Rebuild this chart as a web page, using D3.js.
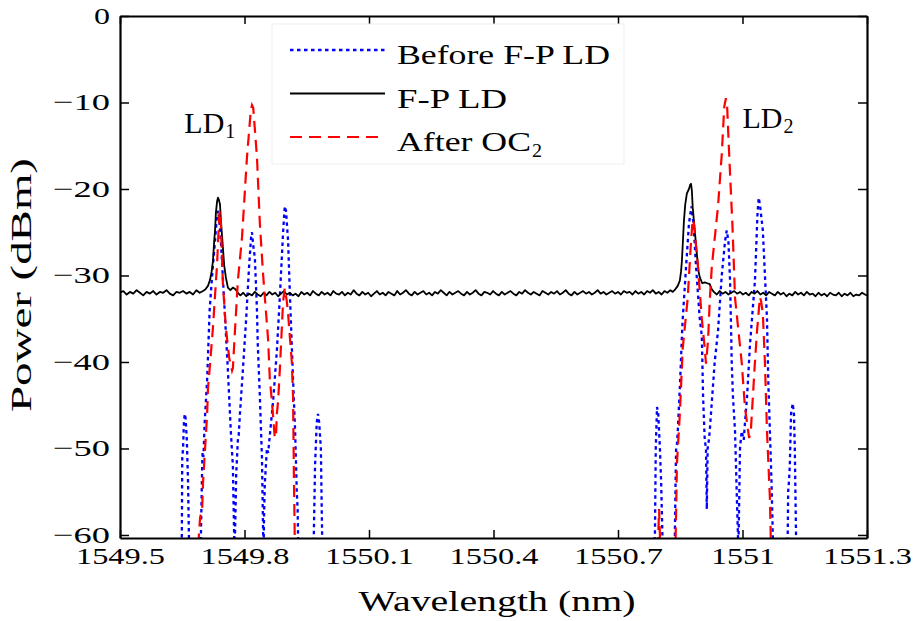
<!DOCTYPE html>
<html><head><meta charset="utf-8">
<script src="https://cdn.jsdelivr.net/npm/d3@7"></script>
<style>body{margin:0;background:#fff}</style>
</head><body><svg id="c" width="917" height="621"></svg>
<script>
const xTicks = [1549.5, 1549.8, 1550.1, 1550.4, 1550.7, 1551, 1551.3];
const xTickLabels = ["1549.5", "1549.8", "1550.1", "1550.4", "1550.7", "1551", "1551.3"];
const yTicks = [0, -10, -20, -30, -40, -50, -60];
const seriesNames = ["Before F-P LD", "F-P LD", "After OC"];
const seriesSubs = ["", "", "2"];
const peakLabels = ["LD", "LD"];
const peakSubs = ["1", "2"];

// [wavelength (nm), power (dBm)]
const beforeFP = [
[1549.640,-70],[1549.649,-60],[1549.650,-51],[1549.652,-50],[1549.654,-47],[1549.656,-46],[1549.658,-46.5],[1549.661,-49],[1549.664,-54],[1549.666,-60],[1549.672,-70],
[1549.690,-70],[1549.695,-60],[1549.698,-52],[1549.699,-50.5],[1549.701,-51],[1549.704,-47],[1549.710,-42],[1549.716,-34],[1549.722,-30],[1549.729,-26],[1549.733,-23.5],[1549.736,-22.5],[1549.739,-23.5],[1549.743,-26],[1549.751,-33],[1549.760,-41],[1549.767,-48],[1549.772,-52],[1549.775,-60],[1549.776,-62],[1549.778,-58],[1549.780,-53],[1549.784,-49],[1549.786,-48.5],[1549.789,-46],[1549.796,-41],[1549.804,-35],[1549.811,-29],[1549.816,-25.5],[1549.818,-25],[1549.821,-26.5],[1549.825,-28],[1549.830,-34],[1549.832,-38],[1549.837,-44],[1549.842,-51],[1549.845,-60],[1549.846,-62],[1549.847,-58],[1549.849,-54],[1549.854,-50],[1549.857,-50.5],[1549.861,-48.5],[1549.869,-44.5],[1549.878,-38.7],[1549.885,-32.6],[1549.893,-25],[1549.897,-22],[1549.900,-22.5],[1549.905,-26],[1549.910,-33],[1549.917,-42],[1549.922,-48],[1549.926,-55],[1549.928,-57],[1549.929,-60],[1549.935,-70],
[1549.960,-70],[1549.967,-60],[1549.970,-52],[1549.974,-47],[1549.977,-46],[1549.980,-47],[1549.984,-50],[1549.987,-60],[1549.995,-70],
[1550.780,-70],[1550.789,-60],[1550.791,-50],[1550.794,-45.2],[1550.797,-46],[1550.801,-50],[1550.804,-54],[1550.807,-60],[1550.815,-70],
[1550.832,-70],[1550.837,-60],[1550.839,-53],[1550.840,-50],[1550.842,-49.5],[1550.844,-48],[1550.849,-43],[1550.854,-37],[1550.856,-35],[1550.864,-29],[1550.871,-24],[1550.877,-22],[1550.882,-24],[1550.888,-29],[1550.897,-35],[1550.902,-37],[1550.905,-44],[1550.909,-49],[1550.912,-50],[1550.914,-57],[1550.916,-50],[1550.919,-49],[1550.921,-48],[1550.933,-40],[1550.941,-36.4],[1550.950,-30],[1550.958,-26],[1550.962,-24.8],[1550.966,-26],[1550.970,-30.6],[1550.972,-35],[1550.974,-40],[1550.977,-44],[1550.982,-48],[1550.986,-55],[1550.989,-60],[1550.990,-62],[1550.992,-56],[1550.994,-50],[1550.998,-48],[1551.003,-49],[1551.006,-47],[1551.011,-44],[1551.018,-38],[1551.030,-30.6],[1551.036,-23],[1551.039,-21],[1551.042,-21.8],[1551.049,-24.8],[1551.059,-35],[1551.062,-42],[1551.066,-48],[1551.070,-54],[1551.073,-60],[1551.080,-70],
[1551.100,-70],[1551.109,-60],[1551.110,-55],[1551.112,-53.8],[1551.114,-52],[1551.117,-46],[1551.121,-44.8],[1551.124,-46],[1551.126,-50],[1551.129,-60],[1551.135,-70]
];

const fpLD = [
[1549.500,-32.0],[1549.508,-31.8],[1549.516,-32.2],[1549.524,-31.9],[1549.532,-32.1],[1549.540,-31.7],[1549.548,-32.0],[1549.556,-32.3],[1549.564,-31.9],[1549.572,-32.1],[1549.580,-31.8],[1549.588,-32.2],[1549.596,-31.9],[1549.604,-32.0],[1549.612,-31.7],[1549.620,-32.1],[1549.628,-32.3],[1549.636,-31.9],[1549.644,-32.0],[1549.652,-31.8],[1549.660,-32.1],[1549.668,-31.9],[1549.676,-32.2],[1549.684,-31.7],[1549.692,-32.0],[1549.700,-31.8],[1549.706,-31.6],[1549.712,-31.2],[1549.717,-30.5],[1549.721,-29.5],[1549.724,-28.3],[1549.727,-26.0],[1549.729,-24.8],[1549.731,-22.8],[1549.734,-21.4],[1549.736,-21.0],[1549.738,-21.2],[1549.741,-21.8],[1549.743,-23.5],[1549.746,-25.5],[1549.748,-26.8],[1549.751,-28.8],[1549.755,-30.2],[1549.760,-31.4],[1549.766,-31.7],[1549.772,-31.4],[1549.778,-31.6],[1549.784,-32.0],[1549.790,-32.3],[1549.797,-32.0],[1549.804,-32.4],[1549.811,-32.1],[1549.818,-32.3],[1549.825,-31.9],[1549.832,-32.2],[1549.839,-32.4],[1549.846,-32.0],[1549.853,-32.3],[1549.860,-31.9],[1549.867,-32.2],[1549.874,-32.0],[1549.881,-32.4],[1549.888,-32.1],[1549.895,-31.8],[1549.902,-32.2],[1549.909,-32.0],[1549.916,-32.3],[1549.923,-32.1],[1549.930,-32.4],[1549.937,-31.9],[1549.944,-32.2],[1549.951,-32.0],[1549.958,-32.3],[1549.965,-31.8],[1549.972,-32.1],[1549.979,-32.3],[1549.986,-31.9],[1549.993,-32.2],[1550.000,-32.0],[1550.007,-32.3],[1550.014,-31.8],[1550.021,-32.1],[1550.028,-32.2],[1550.035,-31.9],[1550.042,-32.3],[1550.049,-32.0],[1550.056,-32.2],[1550.063,-31.7],[1550.070,-32.1],[1550.077,-32.3],[1550.084,-31.9],[1550.091,-32.2],[1550.098,-32.0],[1550.105,-32.4],[1550.112,-32.1],[1550.119,-31.8],[1550.126,-32.2],[1550.133,-32.0],[1550.140,-32.3],[1550.147,-31.9],[1550.154,-32.1],[1550.161,-32.3],[1550.168,-31.8],[1550.175,-32.2],[1550.182,-32.0],[1550.189,-31.7],[1550.196,-32.1],[1550.203,-32.3],[1550.210,-31.9],[1550.217,-32.2],[1550.224,-32.0],[1550.231,-31.8],[1550.238,-32.2],[1550.245,-32.0],[1550.252,-32.3],[1550.259,-31.9],[1550.266,-32.1],[1550.273,-31.7],[1550.280,-32.0],[1550.287,-32.3],[1550.294,-31.9],[1550.301,-32.2],[1550.308,-32.0],[1550.315,-31.8],[1550.322,-32.1],[1550.329,-32.3],[1550.336,-31.9],[1550.343,-32.2],[1550.350,-32.0],[1550.357,-31.7],[1550.364,-32.1],[1550.371,-32.3],[1550.378,-31.9],[1550.385,-32.0],[1550.392,-32.2],[1550.399,-31.8],[1550.406,-32.1],[1550.413,-32.3],[1550.420,-31.9],[1550.427,-32.2],[1550.434,-32.0],[1550.441,-31.8],[1550.448,-32.1],[1550.455,-32.3],[1550.462,-31.9],[1550.469,-32.1],[1550.476,-31.7],[1550.483,-32.0],[1550.490,-32.2],[1550.497,-31.9],[1550.504,-32.1],[1550.511,-32.3],[1550.518,-31.8],[1550.525,-32.0],[1550.532,-32.2],[1550.539,-31.9],[1550.546,-32.1],[1550.553,-31.8],[1550.560,-32.2],[1550.567,-32.0],[1550.574,-31.7],[1550.581,-32.1],[1550.588,-32.3],[1550.595,-31.9],[1550.602,-32.2],[1550.609,-32.0],[1550.616,-31.8],[1550.623,-32.1],[1550.630,-31.9],[1550.637,-32.2],[1550.644,-32.0],[1550.651,-31.7],[1550.658,-32.1],[1550.665,-31.9],[1550.672,-32.2],[1550.679,-32.0],[1550.686,-31.8],[1550.693,-32.1],[1550.700,-31.9],[1550.707,-32.2],[1550.714,-31.8],[1550.721,-32.0],[1550.728,-31.9],[1550.735,-32.2],[1550.742,-31.8],[1550.749,-32.1],[1550.756,-31.9],[1550.763,-32.2],[1550.770,-31.8],[1550.777,-32.0],[1550.784,-31.7],[1550.791,-32.1],[1550.798,-31.9],[1550.805,-32.2],[1550.812,-31.8],[1550.819,-32.0],[1550.826,-31.7],[1550.832,-31.9],[1550.838,-31.6],[1550.844,-31.2],[1550.849,-30.6],[1550.852,-29.5],[1550.854,-28.3],[1550.857,-25.5],[1550.859,-23.6],[1550.862,-21.8],[1550.866,-20.5],[1550.871,-20.0],[1550.874,-19.5],[1550.876,-19.4],[1550.878,-20.2],[1550.880,-22.1],[1550.885,-24.8],[1550.890,-27.5],[1550.894,-29.5],[1550.897,-30.2],[1550.903,-30.9],[1550.909,-30.8],[1550.915,-30.9],[1550.921,-31.0],[1550.926,-31.6],[1550.931,-31.9],[1550.938,-32.2],[1550.945,-31.8],[1550.952,-32.1],[1550.959,-31.9],[1550.966,-32.2],[1550.973,-32.0],[1550.980,-31.8],[1550.987,-32.1],[1550.994,-31.9],[1551.001,-32.2],[1551.008,-32.0],[1551.015,-32.3],[1551.022,-31.9],[1551.029,-32.1],[1551.036,-31.8],[1551.043,-32.2],[1551.050,-32.0],[1551.057,-32.3],[1551.064,-31.9],[1551.071,-32.1],[1551.078,-32.3],[1551.085,-31.9],[1551.092,-32.2],[1551.099,-32.0],[1551.106,-32.4],[1551.113,-32.1],[1551.120,-32.3],[1551.127,-31.9],[1551.134,-32.2],[1551.141,-32.0],[1551.148,-32.3],[1551.155,-31.9],[1551.162,-32.2],[1551.169,-32.1],[1551.176,-32.4],[1551.183,-32.0],[1551.190,-32.3],[1551.197,-32.1],[1551.204,-32.4],[1551.211,-32.0],[1551.218,-32.2],[1551.225,-32.3],[1551.232,-32.0],[1551.239,-32.4],[1551.246,-32.1],[1551.253,-32.3],[1551.260,-32.0],[1551.267,-32.4],[1551.274,-32.2],[1551.281,-32.3],[1551.288,-32.0],[1551.295,-32.2],[1551.300,-32.3]
];

const afterOC2 = [
[1549.685,-70],[1549.690,-60],[1549.693,-58],[1549.698,-57],[1549.700,-54],[1549.705,-50],[1549.710,-46],[1549.712,-43],[1549.714,-42],[1549.724,-36],[1549.734,-28.6],[1549.739,-23.2],[1549.741,-22.5],[1549.743,-24],[1549.748,-31],[1549.755,-36],[1549.763,-39.5],[1549.770,-41],[1549.772,-40.7],[1549.777,-36.4],[1549.784,-30.6],[1549.794,-25.6],[1549.806,-16.3],[1549.815,-11],[1549.818,-10.3],[1549.821,-10.6],[1549.830,-16.3],[1549.837,-24],[1549.845,-30],[1549.857,-37.5],[1549.861,-42],[1549.866,-44.5],[1549.873,-48.8],[1549.876,-48.5],[1549.878,-46],[1549.881,-44.5],[1549.885,-41],[1549.893,-33],[1549.897,-31.5],[1549.902,-33],[1549.905,-34.4],[1549.914,-40],[1549.917,-44],[1549.919,-53],[1549.921,-60],[1549.925,-70],
[1550.795,-70],[1550.797,-60],[1550.799,-57],[1550.801,-60],[1550.805,-70],
[1550.835,-70],[1550.839,-60],[1550.842,-51.8],[1550.849,-46],[1550.856,-38.4],[1550.861,-36],[1550.868,-32.6],[1550.876,-26],[1550.880,-23.5],[1550.883,-24],[1550.892,-28.6],[1550.902,-35],[1550.909,-38.4],[1550.912,-40.2],[1550.917,-37.5],[1550.921,-33],[1550.926,-29],[1550.941,-22],[1550.950,-16],[1550.956,-10.5],[1550.960,-9.5],[1550.963,-10.5],[1550.967,-15],[1550.976,-24.5],[1550.982,-32.6],[1550.998,-40],[1551.006,-45.3],[1551.016,-48.8],[1551.020,-48],[1551.025,-44],[1551.030,-40],[1551.035,-36.4],[1551.042,-32.5],[1551.045,-33],[1551.049,-34.4],[1551.054,-40],[1551.059,-48],[1551.066,-55.7],[1551.068,-60],[1551.072,-70]
];

const peakPos = [[1549.655, -13.5], [1551.000, -13.0]];

const FONT = "'Liberation Serif','Times New Roman',serif";
const svg = d3.select("#c");
const L = 120, R = 867, T = 16, B = 538;
const x = d3.scaleLinear().domain([1549.5, 1551.3]).range([L, R]);
const y = d3.scaleLinear().domain([-60.35, 0]).range([B, T]);

svg.append("defs").append("clipPath").attr("id", "clip")
  .append("rect").attr("x", L).attr("y", T).attr("width", R - L).attr("height", B - T);

const line = d3.line().x(d => x(d[0])).y(d => y(d[1]));
const plot = svg.append("g").attr("clip-path", "url(#clip)");

plot.append("path").datum(beforeFP).attr("d", line)
  .attr("fill", "none").attr("stroke", "#0000ff").attr("stroke-width", 2.3)
  .attr("stroke-dasharray", "3.5,3.5");
plot.append("path").datum(fpLD).attr("d", line)
  .attr("fill", "none").attr("stroke", "#000").attr("stroke-width", 1.8)
  .attr("stroke-linejoin", "round");
plot.append("path").datum(afterOC2).attr("d", line)
  .attr("fill", "none").attr("stroke", "#ff0000").attr("stroke-width", 2.2)
  .attr("stroke-dasharray", "12,7");

// width of tick label glyphs (stretched serif look)
function tw(s) {
  let w = 0;
  for (const c of s) w += c === "\u2212" ? 25 : c === "." ? 9 : 16;
  return w;
}

const gx = svg.append("g").attr("transform", `translate(0,${B})`)
  .call(d3.axisBottom(x).tickValues(xTicks).tickSizeInner(-8).tickSizeOuter(0)
    .tickFormat((d, i) => xTickLabels[i]));
gx.selectAll("text").attr("y", 26).attr("dy", null)
  .attr("textLength", (d, i) => tw(xTickLabels[i])).attr("lengthAdjust", "spacingAndGlyphs");

const gy = svg.append("g").attr("transform", `translate(${L},0)`)
  .call(d3.axisLeft(y).tickValues(yTicks).tickSizeInner(-9).tickSizeOuter(0).tickPadding(10));
gy.selectAll("text").attr("dy", "0.3em")
  .attr("textLength", function () { return tw(this.textContent); }).attr("lengthAdjust", "spacingAndGlyphs");

svg.append("g").attr("transform", `translate(0,${T})`)
  .call(d3.axisTop(x).tickValues(xTicks).tickSizeInner(-8).tickSizeOuter(0).tickFormat(""));
svg.append("g").attr("transform", `translate(${R},0)`)
  .call(d3.axisRight(y).tickValues(yTicks).tickSizeInner(-9).tickSizeOuter(0).tickFormat(""));

svg.selectAll(".domain").attr("stroke", "#000").attr("stroke-width", 2.2);
svg.selectAll(".tick line").attr("stroke", "#000").attr("stroke-width", 1.5);
svg.selectAll(".tick text").attr("font-family", FONT).attr("font-size", 24).attr("fill", "#000");

// axis titles
svg.append("text").attr("x", 497).attr("y", 611).attr("text-anchor", "middle")
  .attr("font-family", FONT).attr("font-size", 29)
  .attr("textLength", 277).attr("lengthAdjust", "spacingAndGlyphs")
  .text("Wavelength (nm)");
svg.append("text").attr("transform", "translate(31,285) rotate(-90)").attr("text-anchor", "middle")
  .attr("font-family", FONT).attr("font-size", 29)
  .attr("textLength", 254).attr("lengthAdjust", "spacingAndGlyphs")
  .text("Power (dBm)");

// legend
const lg = svg.append("g");
lg.append("rect").attr("x", 272).attr("y", 24).attr("width", 352).attr("height", 140)
  .attr("fill", "#fff").attr("stroke", "#efefef").attr("stroke-width", 1);
const legStyles = [
  {c: "#0000ff", w: 2.3, da: "3.5,3.5"},
  {c: "#000", w: 2.2, da: null},
  {c: "#ff0000", w: 2.2, da: "12,7"}
];
const legTextW = [213, 110, 134];
seriesNames.forEach((name, i) => {
  const yy = 50 + i * 43.5;
  lg.append("line").attr("x1", 290).attr("x2", 385).attr("y1", yy).attr("y2", yy)
    .attr("stroke", legStyles[i].c).attr("stroke-width", legStyles[i].w)
    .attr("stroke-dasharray", legStyles[i].da);
  lg.append("text").attr("x", 397).attr("y", yy + 14).attr("font-family", FONT).attr("font-size", 28)
    .attr("textLength", legTextW[i]).attr("lengthAdjust", "spacingAndGlyphs").text(name);
  if (seriesSubs[i]) {
    lg.append("text").attr("x", 397 + legTextW[i] + 1).attr("y", yy + 20).attr("font-family", FONT)
      .attr("font-size", 19).attr("textLength", 10).attr("lengthAdjust", "spacingAndGlyphs")
      .text(seriesSubs[i]);
  }
});

// peak annotations
peakLabels.forEach((lab, i) => {
  const px = x(peakPos[i][0]), py = y(peakPos[i][1]);
  svg.append("text").attr("x", px).attr("y", py).attr("font-family", FONT).attr("font-size", 29)
    .attr("textLength", 40).attr("lengthAdjust", "spacingAndGlyphs").text(lab);
  svg.append("text").attr("x", px + 41).attr("y", py + 5).attr("font-family", FONT).attr("font-size", 20)
    .attr("textLength", 10).attr("lengthAdjust", "spacingAndGlyphs").text(peakSubs[i]);
});
</script></body></html>
